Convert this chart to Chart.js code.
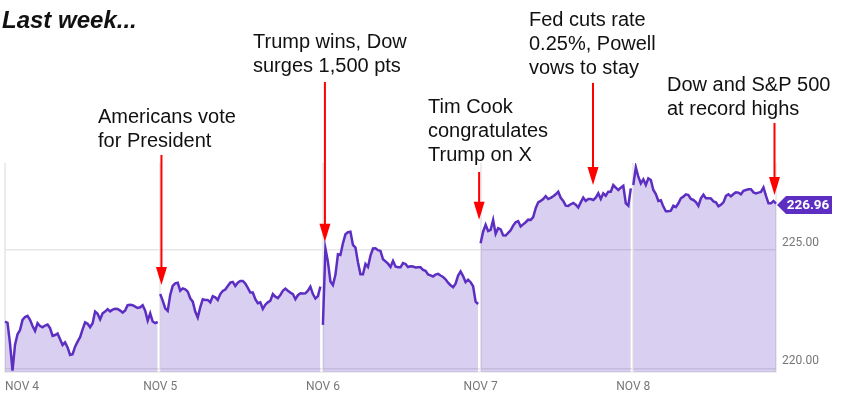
<!DOCTYPE html>
<html lang="en">
<head>
    <meta charset="UTF-8">
    <title>Last week...</title>
    <style>
        body { margin: 0; padding: 0; background: #ffffff; }
        #wrap { position: relative; width: 842px; height: 400px; }
    </style>
</head>
<body>
<div id="wrap"><canvas id="priceChart"></canvas></div>

<script src="https://cdn.jsdelivr.net/npm/chart.js@4/dist/chart.umd.min.js"></script>
<script>
    // Session prices, one array per trading day
    const nov4 = [221.98,221.93,221.06,219.91,220.99,221.44,221.62,222.05,222.17,222.22,222.05,221.79,221.58,221.91,221.79,221.74,221.81,221.85,221.70,221.37,221.41,221.47,221.23,220.99,221.10,220.89,220.57,220.60,220.92,221.13,221.32,221.65,221.95,221.89,221.74,221.91,222.40,222.31,222.07,222.33,222.40,222.50,222.41,222.48,222.52,222.51,222.44,222.36,222.45,222.67,222.69,222.67,222.61,222.55,222.58,222.67,222.44,222.02,222.33,221.98,221.91,221.96];
    const nov5 = [223.14,222.86,222.54,222.43,223.10,223.48,223.59,223.62,223.28,223.38,223.34,223.24,222.96,222.82,222.40,222.15,222.58,222.92,222.89,222.89,222.79,223.05,223.00,222.89,223.14,223.27,223.33,223.48,223.62,223.65,223.48,223.62,223.69,223.69,223.58,223.40,223.20,223.20,222.92,222.75,222.79,222.51,222.69,222.79,222.86,223.14,223.03,222.97,223.10,223.28,223.37,223.28,223.20,223.14,222.92,223.09,223.17,223.16,223.17,223.28,223.45,223.14,222.95,223.05,223.45];
    const nov6 = [221.84,225.07,224.51,223.67,223.52,223.95,224.82,224.79,225.28,225.66,225.75,225.77,225.21,225.10,224.48,223.97,223.97,224.41,224.28,224.76,225.06,225.07,224.99,224.96,224.61,224.52,224.42,224.28,224.54,224.30,224.27,224.27,224.45,224.41,224.28,224.31,224.30,224.26,224.27,224.27,224.16,224.12,223.97,223.93,223.88,223.96,223.99,223.92,223.86,223.76,223.62,223.51,223.43,223.58,223.92,224.09,223.90,223.64,223.74,223.64,223.47,222.82,222.72];
    const nov7 = [225.28,225.77,226.06,225.80,225.85,226.27,225.68,225.92,225.87,225.62,225.61,225.72,225.83,226.03,226.17,226.22,225.99,226.08,226.17,226.28,226.27,226.39,226.76,227.01,227.07,227.15,227.27,227.15,227.20,227.27,227.35,227.46,227.20,227.07,226.87,226.86,226.93,226.98,226.91,226.79,227.01,227.21,227.07,227.15,227.15,227.11,227.21,227.39,227.15,227.39,227.29,227.46,227.46,227.74,227.63,227.53,227.63,227.71,226.97,226.87,227.60];
    const nov8 = [227.74,228.49,228.09,227.81,227.98,227.74,228.02,227.95,227.53,227.36,227.07,227.10,226.83,226.63,226.63,226.66,226.87,226.81,226.97,227.18,227.25,227.35,227.32,227.15,227.11,227.02,226.86,227.18,227.33,227.18,227.18,227.17,227.05,227.01,226.84,226.91,227.01,227.28,227.35,227.26,227.36,227.43,227.42,227.35,227.50,227.53,227.56,227.56,227.43,227.39,227.42,227.45,227.64,227.28,226.97,226.97,227.07,226.96];

    const days = [nov4, nov5, nov6, nov7, nov8];
    const dayNames = ['NOV 4', 'NOV 5', 'NOV 6', 'NOV 7', 'NOV 8', ''];
    const dayStarts = [0, 62, 127, 190, 251, 308];
    const priceTicks = [220, 225];

    // Callouts: where each arrow sits on the time axis, the price at its tip and at its tail
    const arrowIndex = [62.5, 127.8, 189.4, 234.9, 307.4];
    const arrowTip = [223.52, 225.35, 226.27, 227.74, 227.32];
    const arrowTail = [229.01, 232.09, 228.29, 232.05, 230.36];

    const calloutText = [
        ['Americans vote', 'for President'],
        ['Trump wins, Dow', 'surges 1,500 pts'],
        ['Tim Cook', 'congratulates', 'Trump on X'],
        ['Fed cuts rate', '0.25%, Powell', 'vows to stay'],
        ['Dow and S&P 500', 'at record highs']
    ];
    const calloutX = [98, 253, 428, 529, 667];
    const calloutY = [123, 48, 113, 26, 91];
    const headline = 'Last week...';

    const labels = new Array(309).fill('');
    dayStarts.forEach((start, i) => { labels[start] = dayNames[i]; });

    const lineColor = '#5c2fc2';
    const textFont = '"Liberation Sans", Helvetica, Arial, sans-serif';

    // each day is its own dataset so the line and the fill break at the session change
    const datasets = days.map((values, i) => ({
        label: dayNames[i],
        data: new Array(dayStarts[i]).fill(null).concat(values),
        borderColor: lineColor,
        borderWidth: 2.5,
        backgroundColor: 'rgba(92, 47, 194, 0.23)',
        fill: 'start',
        pointRadius: 0,
        tension: 0
    }));

    const annotations = {
        id: 'annotations',
        afterDraw(chart) {
            const ctx = chart.ctx;
            const xs = chart.scales.x;
            const ys = chart.scales.y;

            ctx.save();
            ctx.fillStyle = '#111111';
            ctx.textAlign = 'left';
            ctx.textBaseline = 'alphabetic';
            ctx.font = 'italic bold 24px ' + textFont;
            ctx.fillText(headline, 2, 28);

            ctx.font = '20px ' + textFont;
            calloutText.forEach((lines, i) => {
                lines.forEach((line, j) => ctx.fillText(line, calloutX[i], calloutY[i] + j * 24));
            });

            // red arrows
            ctx.strokeStyle = '#ff0000';
            ctx.fillStyle = '#ff0000';
            ctx.lineWidth = 2;
            arrowIndex.forEach((index, i) => {
                const x = xs.getPixelForValue(index);
                const tip = ys.getPixelForValue(arrowTip[i]);
                const tail = ys.getPixelForValue(arrowTail[i]);
                ctx.beginPath();
                ctx.moveTo(x, tail);
                ctx.lineTo(x, tip - 15);
                ctx.stroke();
                ctx.beginPath();
                ctx.moveTo(x, tip);
                ctx.lineTo(x - 5.5, tip - 18);
                ctx.lineTo(x + 5.5, tip - 18);
                ctx.closePath();
                ctx.fill();
            });

            // last price tag
            const last = nov8[nov8.length - 1];
            const tagY = ys.getPixelForValue(last) + 1.5;
            const tagX = xs.right + 1;
            ctx.fillStyle = lineColor;
            ctx.beginPath();
            ctx.moveTo(tagX, tagY);
            ctx.lineTo(tagX + 9, tagY - 9);
            ctx.lineTo(tagX + 55, tagY - 9);
            ctx.lineTo(tagX + 55, tagY + 9);
            ctx.lineTo(tagX + 9, tagY + 9);
            ctx.closePath();
            ctx.fill();
            ctx.fillStyle = '#ffffff';
            ctx.font = 'bold 13.5px Roboto, sans-serif';
            ctx.textAlign = 'center';
            ctx.textBaseline = 'middle';
            ctx.fillText(last.toFixed(2), tagX + 31, tagY + 0.5);
            ctx.restore();
        }
    };

    new Chart(document.getElementById('priceChart'), {
        type: 'line',
        data: { labels: labels, datasets: datasets },
        plugins: [annotations],
        options: {
            responsive: true,
            maintainAspectRatio: false,
            animation: false,
            layout: { autoPadding: false, padding: { top: 163, left: 5 } },
            plugins: { legend: { display: false }, tooltip: { enabled: false } },
            scales: {
                x: {
                    type: 'category',
                    afterBuildTicks(axis) { axis.ticks = dayStarts.map(v => ({ value: v })); },
                    afterFit(axis) {
                        axis.height = 28;
                        // the first label is left aligned, so the axis needs no side padding
                        axis.paddingLeft = 0;
                        axis.paddingRight = 0;
                    },
                    border: { color: '#eeeeee', width: 2 },
                    grid: { color: '#ececec', lineWidth: 2, drawTicks: false },
                    ticks: {
                        autoSkip: false,
                        maxRotation: 0,
                        align: 'inner',
                        padding: 8,
                        color: '#777777',
                        font: { family: 'Roboto, sans-serif', size: 12 }
                    }
                },
                y: {
                    position: 'right',
                    min: 219.85,
                    max: 228.67,
                    afterBuildTicks(axis) { axis.ticks = priceTicks.map(v => ({ value: v })); },
                    afterFit(axis) { axis.width = 66; },
                    border: { display: false },
                    grid: { color: '#e6e6e6', lineWidth: 1.5, drawTicks: false },
                    ticks: {
                        padding: 6,
                        labelOffset: -7,
                        color: '#777777',
                        font: { family: 'Roboto, sans-serif', size: 12 },
                        callback: v => v.toFixed(2)
                    }
                }
            }
        }
    });
</script>
</body>
</html>
